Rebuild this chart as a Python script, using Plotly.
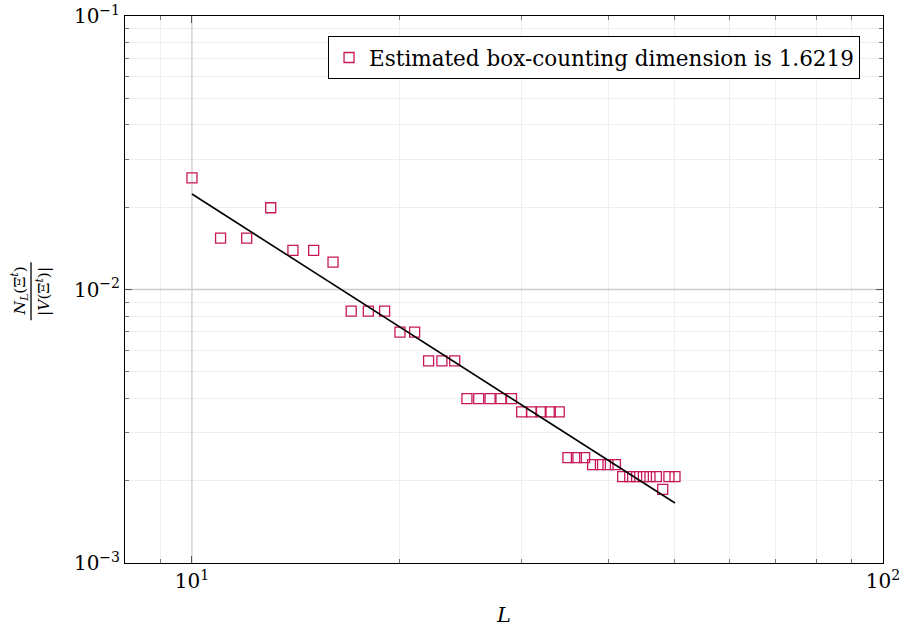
import plotly.graph_objects as go

L = list(range(10, 51))
ratio = [0.0256, 0.0154, 0.0154, 0.0199, 0.0139, 0.0139, 0.0126,
         0.00834, 0.00834, 0.00834, 0.00699, 0.00699,
         0.00548, 0.00548, 0.00548,
         0.00399, 0.00399, 0.00399, 0.00399, 0.00399,
         0.00357, 0.00357, 0.00357, 0.00357, 0.00357,
         0.00243, 0.00243, 0.00243,
         0.00229, 0.00229, 0.00229, 0.00229,
         0.00207, 0.00207, 0.00207, 0.00207, 0.00207, 0.00207,
         0.00186, 0.00207, 0.00207]
fit_L = [10, 50]
fit_ratio = [0.02234, 0.001657]
legend_label = "Estimated box-counting dimension is 1.6219"

x_minor = [8, 9] + [k * 10 for k in range(2, 10)]
y_minor = [k * 1e-3 for k in range(2, 10)] + [k * 1e-2 for k in range(2, 10)]

FONT = "DejaVu Serif"
MARK = "#c8175a"

fig = go.Figure()
# major grid lines (darker)
fig.add_trace(go.Scatter(x=[10, 10], y=[1e-3, 1e-1], mode="lines",
                         line=dict(color="#cccccc", width=1.3), showlegend=False, hoverinfo="skip"))
fig.add_trace(go.Scatter(x=[8, 100], y=[1e-2, 1e-2], mode="lines",
                         line=dict(color="#cccccc", width=1.3), showlegend=False, hoverinfo="skip"))
fig.add_trace(go.Scatter(x=L, y=ratio, mode="markers", name=legend_label,
                         marker=dict(symbol="square-open", size=10, color=MARK,
                                     line=dict(width=1.3, color=MARK))))
fig.add_trace(go.Scatter(x=fit_L, y=fit_ratio, mode="lines",
                         line=dict(color="black", width=1.6), showlegend=False))

axis_common = dict(type="log", showline=True, linecolor="black", linewidth=1,
                   mirror="ticks", ticks="inside", ticklen=7, tickcolor="#555555",
                   showgrid=False, zeroline=False, automargin=False,
                   tickfont=dict(family=FONT, size=20, color="black"))
fig.update_xaxes(**axis_common, range=[0.9031, 2.0],
                 tickvals=[10, 100], ticktext=["10<sup>1</sup>", "10<sup>2</sup>"],
                 minor=dict(tickvals=x_minor, ticks="inside", ticklen=4, tickcolor="#777777",
                            showgrid=True, gridcolor="#eeeeee", gridwidth=1),
                 title=dict(text="<i>L</i>", font=dict(family=FONT, size=21, color="black"), standoff=17))
fig.update_yaxes(**axis_common, range=[-3, -1],
                 tickvals=[1e-3, 1e-2, 1e-1],
                 ticktext=["10<sup>\u22123</sup>", "10<sup>\u22122</sup>", "10<sup>\u22121</sup>"],
                 minor=dict(tickvals=y_minor, ticks="inside", ticklen=4, tickcolor="#777777",
                            showgrid=True, gridcolor="#eeeeee", gridwidth=1))

# rotated fraction y-axis label
fig.add_annotation(xref="paper", yref="paper", x=-0.1395, y=0.497, xanchor="center", yanchor="middle",
                   text="<i>N<sub>L</sub></i>(\u039e<sup><i>t</i></sup>)", textangle=-90, showarrow=False,
                   font=dict(family=FONT, size=15.5, color="black"))
fig.add_annotation(xref="paper", yref="paper", x=-0.1085, y=0.497, xanchor="center", yanchor="middle",
                   text="|<i>V</i>(\u039e<sup><i>t</i></sup>)|", textangle=-90, showarrow=False,
                   font=dict(family=FONT, size=15.5, color="black"))
fig.add_shape(type="line", xref="paper", yref="paper", x0=-0.124, x1=-0.124, y0=0.444, y1=0.550,
              line=dict(color="black", width=1.3))

fig.update_layout(
    width=902, height=627,
    margin=dict(l=125, r=19, t=16, b=64),
    paper_bgcolor="white", plot_bgcolor="white",
    font=dict(family=FONT, color="black"),
    legend=dict(x=0.9697, y=0.9634, xanchor="right", yanchor="top",
                bordercolor="black", borderwidth=1, bgcolor="white",
                font=dict(family=FONT, size=21.5, color="black"),
                itemwidth=30, tracegroupgap=0),
)

fig.write_html("out.html", config={"displayModeBar": False},
               post_script="document.body.style.margin='0';document.body.style.overflow='hidden';")
